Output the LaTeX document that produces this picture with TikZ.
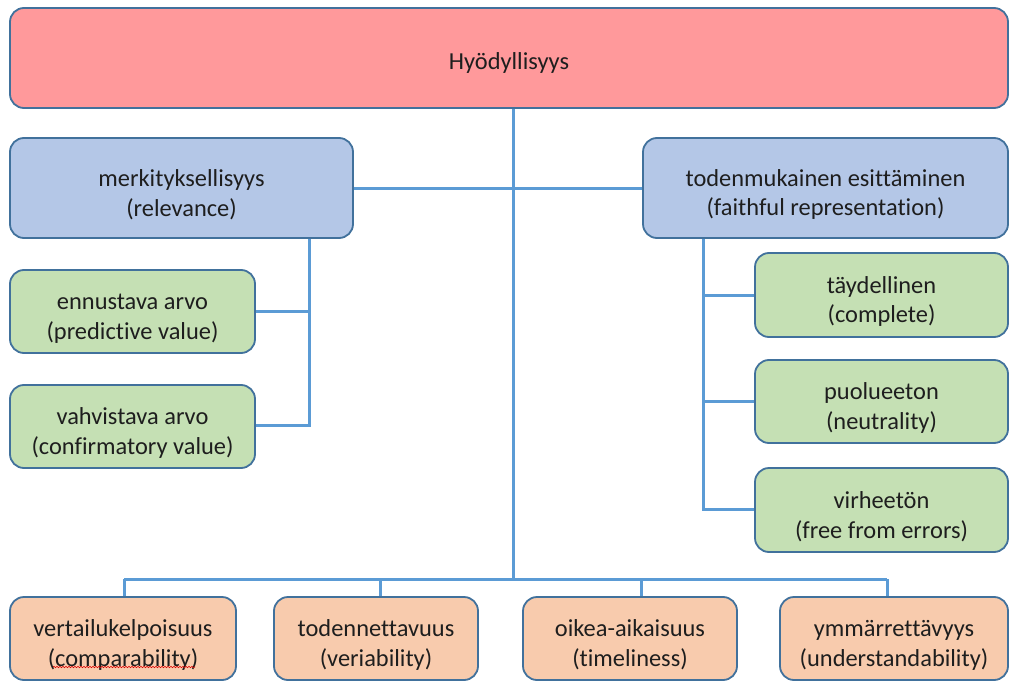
\documentclass[tikz,border=0pt]{standalone}
\usepackage{fontspec}
\setmainfont{Carlito}[Ligatures=CommonOff]
\usetikzlibrary{decorations.pathmorphing}
\definecolor{pinkfill}{HTML}{FF999B}
\definecolor{bluefill}{HTML}{B4C7E7}
\definecolor{greenfill}{HTML}{C5E0B4}
\definecolor{orangefill}{HTML}{F8CBAD}
\definecolor{boxborder}{HTML}{41719C}
\definecolor{linkcol}{HTML}{5B9BD5}
\definecolor{txt}{HTML}{1E1E1E}
\newcommand{\TopR}{\rule{0pt}{30bp}}
\tikzset{
  box/.style={draw=boxborder, line width=1.8bp, rounded corners=14bp, align=center,
    inner sep=0pt, text=txt, font=\fontsize{24.5}{30}\selectfont},
  link/.style={draw=linkcol, line width=3bp},
}
\begin{document}
\begin{tikzpicture}[x=1bp,y=-1bp]
\useasboundingbox (0,0) rectangle (1009,682);
% boxes
\node[box, fill=pinkfill, minimum width=998bp, minimum height=100bp] (top) at (509,58) {\rule{0pt}{27bp}Hyödyllisyys};
\node[box, fill=bluefill, minimum width=343bp, minimum height=100bp] (rel) at (181.5,188) {\TopR merkityksellisyys\\(relevance)};
\node[box, fill=bluefill, minimum width=365bp, minimum height=100bp] (faith) at (825.5,188) {\TopR todenmukainen esittäminen\\(faithful representation)};
\node[box, fill=greenfill, minimum width=245bp, minimum height=83bp] (pred) at (132.5,311.5) {\TopR ennustava arvo\\(predictive value)};
\node[box, fill=greenfill, minimum width=245bp, minimum height=83bp] (conf) at (132.5,426.5) {\TopR vahvistava arvo\\(confirmatory value)};
\node[box, fill=greenfill, minimum width=253bp, minimum height=84bp] (compl) at (881.5,295) {\TopR täydellinen\\(complete)};
\node[box, fill=greenfill, minimum width=253bp, minimum height=83bp] (neut) at (881.5,401.5) {\TopR puolueeton\\(neutrality)};
\node[box, fill=greenfill, minimum width=253bp, minimum height=84bp] (free) at (881.5,510) {\TopR virheetön\\(free from errors)};
\node[box, fill=orangefill, minimum width=226bp, minimum height=83bp] (b1) at (123,638.5) {\TopR vertailukelpoisuus\\(comparability)};
\node[box, fill=orangefill, minimum width=204bp, minimum height=83bp] (b2) at (376,638.5) {\TopR todennettavuus\\(veriability)};
\node[box, fill=orangefill, minimum width=214bp, minimum height=83bp] (b3) at (630,638.5) {\TopR oikea-aikaisuus\\(timeliness)};
\node[box, fill=orangefill, minimum width=228bp, minimum height=83bp] (b4) at (894,638.5) {\TopR ymmärrettävyys\\(understandability)};
% coordinates
\coordinate (hub) at (513,188);
\coordinate (bus) at (513,579);
\coordinate (busL) at (124,579);
\coordinate (busR) at (887,579);
\coordinate (d2) at (380,579);
\coordinate (d3) at (641,579);
\coordinate (lv) at (309,425);
\coordinate (rv) at (703,509);
% connectors
\draw[link] (top.south -| hub) -- (bus);
\draw[link] (rel.east |- hub) -- (faith.west |- hub);
\draw[link] (busL) -- (busR);
\draw[link] (busL) -- (busL |- b1.north);
\draw[link] (d2) -- (d2 |- b2.north);
\draw[link] (d3) -- (d3 |- b3.north);
\draw[link] (busR) -- (busR |- b4.north);
\draw[link] (rel.south -| lv) -- (lv) -- (conf.east |- lv);
\draw[link] (pred.east) -- (pred.east -| lv);
\draw[link] (faith.south -| rv) -- (rv) -- (free.west |- rv);
\draw[link] (compl.west) -- (compl.west -| rv);
\draw[link] (neut.west) -- (neut.west -| rv);
% spell-check squiggle
\draw[red!85!black, line width=0.6bp, decorate, decoration={snake, amplitude=0.7bp, segment length=3bp}] (53,667) -- (195,667);
\end{tikzpicture}
\end{document}
